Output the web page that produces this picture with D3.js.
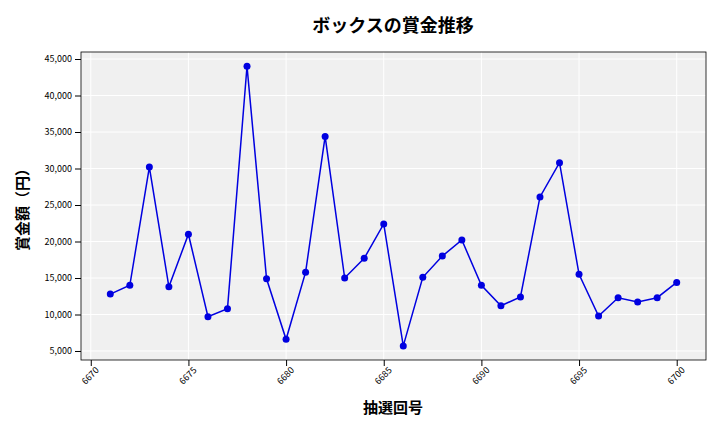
<!DOCTYPE html>
<html><head><meta charset="utf-8">
<script src="https://cdn.jsdelivr.net/npm/d3@7"></script>
<style>body{margin:0;background:#fff}text{font-family:"Noto Sans CJK JP","DejaVu Sans",sans-serif}</style>
</head><body><svg id="c" width="720" height="432"></svg>
<script>
const draws=[6671,6672,6673,6674,6675,6676,6677,6678,6679,6680,6681,6682,6683,6684,6685,6686,6687,6688,6689,6690,6691,6692,6693,6694,6695,6696,6697,6698,6699,6700];
const prizes=[12800,14000,30200,13800,21000,9700,10800,44000,14900,6600,15800,34400,15000,17700,22400,5700,15100,18000,20200,14000,11200,12400,26100,30800,15500,9800,12300,11700,12300,14400];
const xTicks=[6670,6675,6680,6685,6690,6695,6700];
const yTicks=[5000,10000,15000,20000,25000,30000,35000,40000,45000];
const svg=d3.select("#c");
const L=81,R=706,T=52,B=360;
const x=d3.scaleLinear().domain([6669.5,6701.5]).range([L,R]);
const y=d3.scaleLinear().domain([3767,45960]).range([B,T]);
svg.append("rect").attr("x",L).attr("y",T).attr("width",R-L).attr("height",B-T).attr("fill","#f0f0f0");
const g=svg.append("g");
xTicks.forEach(t=>g.append("line").attr("x1",x(t)).attr("x2",x(t)).attr("y1",T).attr("y2",B).attr("stroke","#fff").attr("stroke-width",1));
yTicks.forEach(t=>g.append("line").attr("x1",L).attr("x2",R).attr("y1",y(t)).attr("y2",y(t)).attr("stroke","#fff").attr("stroke-width",1));
svg.append("rect").attr("x",L).attr("y",T).attr("width",R-L).attr("height",B-T).attr("fill","none").attr("stroke","#000").attr("stroke-width",0.8);
const xa=svg.append("g").attr("transform",`translate(0,${B})`).call(d3.axisBottom(x).tickValues(xTicks).tickFormat(d3.format("d")).tickSizeOuter(0));
xa.select(".domain").remove();
xa.selectAll("text").attr("font-size",9).attr("text-anchor","end").attr("dx","-0.2em").attr("dy","0.5em").attr("transform","rotate(-45)");
const ya=svg.append("g").attr("transform",`translate(${L},0)`).call(d3.axisLeft(y).tickValues(yTicks).tickFormat(d3.format(",")).tickSizeOuter(0));
ya.select(".domain").remove();
ya.selectAll("text").attr("font-size",9);
const line=d3.line().x((d,i)=>x(draws[i])).y(d=>y(d));
svg.append("path").datum(prizes).attr("d",line).attr("fill","none").attr("stroke","#0000e0").attr("stroke-width",1.5);
svg.selectAll("circle").data(prizes).join("circle").attr("cx",(d,i)=>x(draws[i])).attr("cy",d=>y(d)).attr("r",3.5).attr("fill","#0000e0");
svg.append("text").attr("x",393).attr("y",32).attr("text-anchor","middle").attr("font-size",18).attr("font-weight","bold").text("ボックスの賞金推移");
svg.append("text").attr("x",393).attr("y",413).attr("text-anchor","middle").attr("font-size",15).attr("font-weight","bold").text("抽選回号");
svg.append("text").attr("transform","translate(28,206) rotate(-90)").attr("text-anchor","middle").attr("font-size",15).attr("font-weight","bold").text("賞金額（円）");
</script></body></html>
